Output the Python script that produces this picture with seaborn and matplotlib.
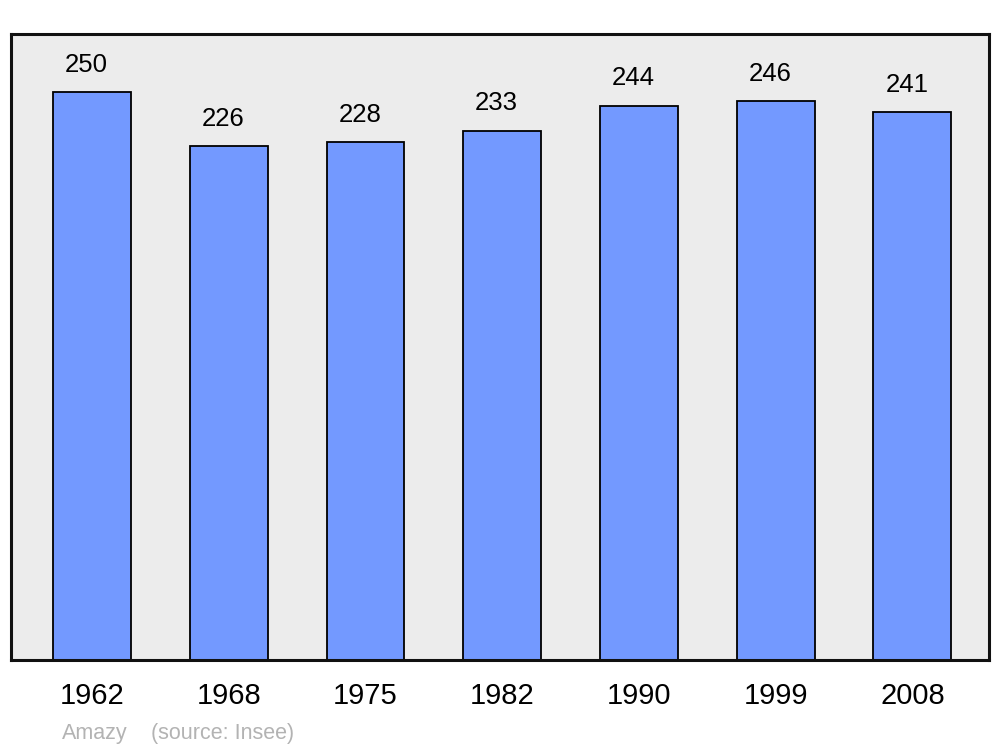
import matplotlib
matplotlib.use("Agg")
import matplotlib.pyplot as plt
import seaborn as sns
import pandas as pd

years = ["1962", "1968", "1975", "1982", "1990", "1999", "2008"]
population = [250, 226, 228, 233, 244, 246, 241]

bar_color = "#7399ff"
bg_color = "#ececec"


def main():
    sns.set_theme(style="white")
    plt.rcParams["font.family"] = ["Liberation Sans", "DejaVu Sans"]

    df = pd.DataFrame({"year": years, "pop": population})

    fig = plt.figure(figsize=(10, 7.47), dpi=100)
    ax = fig.add_axes([0.011, 0.1165, 0.978, 0.838])
    ax.set_facecolor(bg_color)

    sns.barplot(data=df, x="year", y="pop", color=bar_color, saturation=1,
                edgecolor="black", linewidth=1.3, width=0.57, ax=ax)

    labels = ax.bar_label(ax.containers[0], padding=11, fontsize=18.5, color="black")
    # labels sit a little left of the bar centre in the original
    for t in labels:
        t.xyann = (-4, 11)

    ax.set_xlim(-0.593, 6.56)
    ax.set_ylim(0, 275.5)
    ax.set_yticks([])
    ax.set_xlabel("")
    ax.set_ylabel("")
    ax.tick_params(axis="x", length=0, pad=16, labelsize=21, colors="black")
    for s in ax.spines.values():
        s.set_visible(True)
        s.set_color("#111111")
        s.set_linewidth(2.2)

    fig.text(0.062, 0.011, "Amazy", fontsize=15.5, color="#b3b3b3")
    fig.text(0.151, 0.011, "(source: Insee)", fontsize=15.5, color="#b3b3b3")

    fig.savefig("out.png", dpi=100, facecolor="white")
    plt.close()


if __name__ == "__main__":
    main()
